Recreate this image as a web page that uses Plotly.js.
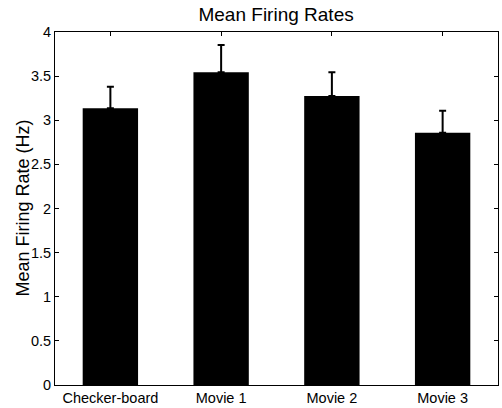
<!DOCTYPE html>
<html>
<head>
<meta charset="utf-8">
<script src="https://cdn.plot.ly/plotly-3.0.1.min.js"></script>
<style>html,body{margin:0;padding:0;background:#fff;}#chart{width:502px;height:408px;}</style>
</head>
<body>
<div id="chart"></div>
<script>
const categories = ["Checker-board", "Movie 1", "Movie 2", "Movie 3"];
const meanRates = [3.135, 3.543, 3.275, 2.859];
const errUpper = [0.245, 0.31, 0.27, 0.25];
const yTicks = [0, 0.5, 1, 1.5, 2, 2.5, 3, 3.5, 4];
const yTickText = ["0", "0.5", "1", "1.5", "2", "2.5", "3", "3.5", "4"];

const font = "Liberation Sans, Arial, Helvetica, sans-serif";

const trace = {
  type: "bar",
  x: categories,
  y: meanRates,
  width: 0.5,
  marker: {color: "#000000", line: {color: "#000000", width: 0}},
  error_y: {
    type: "data",
    symmetric: false,
    array: errUpper,
    arrayminus: errUpper.map(() => 0),
    color: "#000000",
    thickness: 2,
    width: 3.5
  },
  hoverinfo: "none"
};

const layout = {
  width: 502,
  height: 408,
  margin: {l: 55, r: 4, t: 32, b: 23},
  paper_bgcolor: "#ffffff",
  plot_bgcolor: "#ffffff",
  showlegend: false,
  font: {family: font, size: 14.5, color: "#000000"},
  title: {
    text: "Mean Firing Rates",
    font: {family: font, size: 19, color: "#000000"},
    x: 0.55, xanchor: "center",
    y: 0.965, yanchor: "middle"
  },
  xaxis: {
    type: "category",
    range: [-0.5, 3.5],
    showline: true, linecolor: "#000000", linewidth: 1,
    mirror: "ticks",
    ticks: "inside", ticklen: 4, tickcolor: "#000000", tickwidth: 1,
    showgrid: false, zeroline: false,
    tickfont: {family: font, size: 14.5, color: "#000000"}
  },
  yaxis: {
    range: [0, 4],
    tickvals: yTicks,
    ticktext: yTickText,
    showline: true, linecolor: "#000000", linewidth: 1,
    mirror: "ticks",
    ticks: "inside", ticklen: 4, tickcolor: "#000000", tickwidth: 1,
    showgrid: false, zeroline: false,
    tickfont: {family: font, size: 14.5, color: "#000000"}
  },
  annotations: [{
    text: "Mean Firing Rate (Hz)",
    textangle: -90,
    xref: "paper", yref: "paper",
    x: 0, y: 0.5,
    xanchor: "center", yanchor: "middle",
    xshift: -33,
    showarrow: false,
    font: {family: font, size: 18, color: "#000000"}
  }]
};

Plotly.newPlot("chart", [trace], layout, {displayModeBar: false, staticPlot: true});
</script>
</body>
</html>
